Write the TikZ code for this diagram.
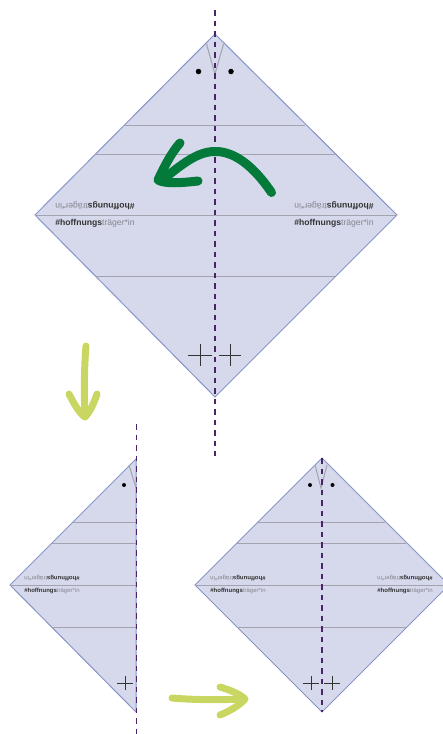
\documentclass[tikz,border=0pt]{standalone}
\usepackage{fontspec}
\setmainfont{Liberation Sans}
\definecolor{paper}{HTML}{D6D9EC}
\definecolor{edgeblue}{HTML}{8794C8}
\definecolor{foldgray}{HTML}{A2A3AE}
\definecolor{axispurple}{HTML}{4A2468}
\definecolor{darkgreen}{HTML}{047A3A}
\definecolor{limegreen}{HTML}{C9D661}
\definecolor{txtgray}{HTML}{85858F}
\newcommand{\hashtag}{{\bfseries\#hoffnungs}\textcolor{txtgray}{träger*in}}
\tikzset{
  x=1pt,y=-1pt,
  sheet/.style={fill=paper,draw=edgeblue,line width=1pt,line join=miter},
  fold/.style={draw=foldgray,line width=1pt},
  axis/.style={draw=axispurple,line width=1.25pt,dash pattern=on 5.5pt off 5pt},
  bigtag/.style={inner sep=0pt,font=\fontsize{8.6}{10}\selectfont,text=black!80},
  smalltag/.style={inner sep=0pt,font=\fontsize{6}{7}\selectfont,text=black!80},
  hole/.style={circle,fill=black,inner sep=0pt,minimum size=#1},
  crossmark/.style={draw=black!80,line width=1pt},
  bigarrow/.style={draw=darkgreen,line width=9pt,line cap=round,line join=round},
  limearrow/.style={draw=limegreen,line width=7pt,line cap=round,line join=round},
}
\begin{document}
\begin{tikzpicture}
\useasboundingbox (0,0) rectangle (443,734);
% big sheet
\coordinate (aT) at (215,34); \coordinate (aL) at (35,215);
\coordinate (aR) at (397,215); \coordinate (aB) at (215,397);
\draw[sheet] (aT)--(aR)--(aB)--(aL)--cycle;
\draw[fold] (125,125)--(305,125) (95,154)--(335,154) (35,215)--(397,215) (95,276)--(335,276);
\draw[fold] (206.5,44)--(215,74)--(223.5,44);
\node[hole=5.5pt] (a1) at (198.5,71.5) {};
\node[hole=5.5pt] (a2) at (231,71.5) {};
\node[bigtag] (a3) at (95,223) {\hashtag};
\node[bigtag,rotate=180] (a4) at (95,205.5) {\hashtag};
\node[bigtag] (a5) at (334,223) {\hashtag};
\node[bigtag,rotate=180] (a6) at (334,205.5) {\hashtag};
\draw[crossmark] (188,355)--(212,355) (200,344)--(200,366);
\draw[crossmark] (219,355)--(241,355) (230,344)--(230,366);
\coordinate (aU) at (215,10); \coordinate (aD) at (215,456);
\draw[axis] (aU)--(aD);
\draw[bigarrow] (271.5,192.5) .. controls (248,158) and (228,151) .. (214,151.5)
  .. controls (195,152) and (178,168) .. (162,180);
\draw[bigarrow] (180,143) .. controls (172,152) and (165,165) .. (158,180)
  .. controls (165,184) and (180,183) .. (198,181);
% lime arrow down
\draw[limearrow] (86,346) .. controls (84,370) and (84,395) .. (85,416);
\draw[limearrow] (69,394) .. controls (74,404) and (80,414) .. (85,417) .. controls (90,412) and (94,403) .. (97,394);
% left half sheet
\coordinate (bT) at (136,459); \coordinate (bL) at (10,585); \coordinate (bB) at (136,712);
\draw[sheet] (bT)--(bB)--(bL)--cycle;
\draw[fold] (73,522)--(136,522) (52,543)--(136,543) (10,585)--(136,585) (52,627)--(136,627);
\draw[fold] (129,465)--(136,488);
\node[hole=4pt] (b1) at (124,485) {};
\node[smalltag] (b2) at (52,591) {\hashtag};
\node[smalltag,rotate=180] (b3) at (52,578.5) {\hashtag};
\draw[crossmark] (117,683)--(133,683) (125.5,676)--(125.5,690);
\coordinate (bU) at (136.5,424); \coordinate (bD) at (136.5,734);
\draw[axis] (bU)--(bD);
% right sheet
\coordinate (cT) at (322,458); \coordinate (cL) at (195,585);
\coordinate (cR) at (449,585); \coordinate (cB) at (322,712);
\draw[sheet] (cT)--(cR)--(cB)--(cL)--cycle;
\draw[fold] (258,522)--(385,522) (237,543)--(406,543) (195,585)--(449,585) (237,627)--(406,627);
\draw[fold] (315,465)--(321,488)--(327,465);
\node[hole=4pt] (c1) at (310,485) {};
\node[hole=4pt] (c2) at (332.5,485) {};
\node[smalltag] (c3) at (238,591) {\hashtag};
\node[smalltag,rotate=180] (c4) at (238,578.5) {\hashtag};
\node[smalltag] (c5) at (405,591) {\hashtag};
\node[smalltag,rotate=180] (c6) at (405,578.5) {\hashtag};
\draw[crossmark] (303,683)--(319,683) (311,676)--(311,690);
\draw[crossmark] (324,683)--(340,683) (332,676)--(332,690);
\draw[axis] (cT)--(cB);
% lime arrow right
\draw[limearrow] (172,698) .. controls (195,700) and (220,700) .. (243,699);
\draw[limearrow] (220,687) .. controls (230,690) and (240,694) .. (245,699) .. controls (240,705) and (230,711) .. (220,715);
\end{tikzpicture}
\end{document}
